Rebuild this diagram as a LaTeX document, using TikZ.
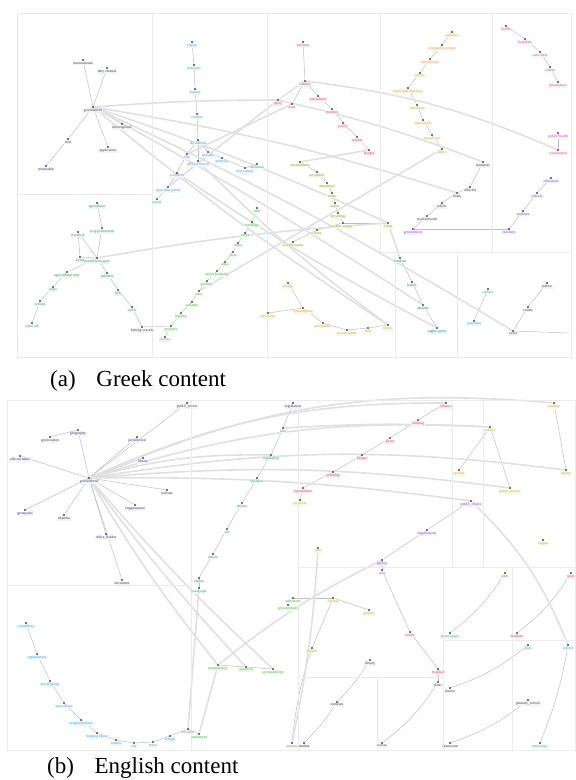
\documentclass[tikz,border=0pt]{standalone}
\usepackage{fontspec}
\setmainfont{Liberation Serif}
\usepackage{xcolor}
\usepackage{tikz}
\usetikzlibrary{calc}
\definecolor{navy}{HTML}{3A3A7C}
\definecolor{sky}{HTML}{3FA2E6}
\definecolor{rose}{HTML}{E0445E}
\definecolor{amber}{HTML}{F2A33A}
\definecolor{pinkc}{HTML}{D24FC0}
\definecolor{violet}{HTML}{8A4FD8}
\definecolor{lime}{HTML}{B8CC3A}
\definecolor{leaf}{HTML}{4CB84C}
\definecolor{tealc}{HTML}{3E9E6E}
\definecolor{sand}{HTML}{F0C850}
\definecolor{sea}{HTML}{2E8C8C}
\definecolor{gridc}{HTML}{EBEBEB}
\pgfdeclarelayer{bg}
\pgfsetlayers{bg,main}
\tikzset{
  pt/.style={circle, fill=black!72, inner sep=0pt, minimum size=2.4pt},
  lab/.style={font=\fontsize{3.8}{4}\selectfont, inner sep=0.6pt},
  navyn/.style={pt, label={[lab,text=navy,fill=navy!6]below:#1}},
  skyn/.style={pt, label={[lab,text=sky,fill=sky!9]below:#1}},
  rosen/.style={pt, label={[lab,text=rose,fill=rose!9]below:#1}},
  ambern/.style={pt, label={[lab,text=amber,fill=amber!11]below:#1}},
  pinkn/.style={pt, label={[lab,text=pinkc,fill=pinkc!9]below:#1}},
  violetn/.style={pt, label={[lab,text=violet,fill=violet!9]below:#1}},
  limen/.style={pt, label={[lab,text=lime!80!black,fill=lime!14]below:#1}},
  leafn/.style={pt, label={[lab,text=leaf,fill=leaf!9]below:#1}},
  tealn/.style={pt, label={[lab,text=tealc,fill=tealc!9]below:#1}},
  sandn/.style={pt, label={[lab,text=sand!85!black,fill=sand!16]below:#1}},
  sean/.style={pt, label={[lab,text=sea,fill=sea!9]below:#1}},
  grayn/.style={pt, label={[lab,text=black!55]below:#1}},
  edge/.style={draw=black!25, line width=0.5pt},
  longedge/.style={draw=black!12, line width=1.6pt},
  cell/.style={draw=gridc, line width=0.8pt},
  captext/.style={font=\fontsize{23}{26}\selectfont, anchor=base west, inner sep=0pt},
}

\begin{document}
\begin{tikzpicture}[x=1pt,y=-1pt]
\useasboundingbox (0,0) rectangle (576,780);

% cells of panel (a)
\draw[cell] (17,13) rectangle (571,357);
\draw[cell] (152,13) -- (152,357);
\draw[cell] (267,13) -- (267,357);
\draw[cell] (17,194) -- (152,194);
\draw[cell] (380,13) -- (380,252);
\draw[cell] (492,13) -- (492,252);
\draw[cell] (380,252) -- (571,252);
\draw[cell] (395,252) -- (395,357);
\draw[cell] (457,252) -- (457,357);

% panel (a) navy
\node[navyn=international] (a_int) at (83,60) {};
\node[navyn=they created] (a_thc) at (107,68) {};
\node[navyn=government] (a_gov) at (93,107) {};
\node[navyn=interregional] (a_itr) at (122,124) {};
\node[navyn=tool] (a_tool) at (68,139) {};
\node[navyn=application] (a_app) at (108,147) {};
\node[navyn=renewable] (a_ren) at (46,166) {};

% panel (a) sky
\node[skyn=region] (a_s1) at (192,42) {};
\node[skyn=data unit] (a_s2) at (194,65) {};
\node[skyn=format] (a_s3) at (195,89) {};
\node[skyn=content] (a_s4) at (197,114) {};
\node[skyn=documents] (a_s5) at (198,140) {};
\node[skyn=formats] (a_s6) at (208,152) {};
\node[skyn=official record] (a_s7) at (198,161) {};
\node[skyn=archives] (a_s8) at (222,158) {};
\node[skyn=text corpus] (a_s9) at (245,168) {};
\node[skyn=metadata] (a_s10) at (257,164) {};
\node[skyn=file] (a_s11) at (187,154) {};
\node[skyn=resources] (a_s12) at (177,173) {};
\node[skyn=open data portal] (a_s13) at (168,187) {};
\node[skyn=portal] (a_s14) at (157,199) {};

% panel (a) rose
\node[rosen=election] (a_r1) at (303,42) {};
\node[rosen=citizens] (a_r2) at (305,81) {};
\node[rosen=parliament] (a_r3) at (318,96) {};
\node[rosen=vote] (a_r4) at (292,104) {};
\node[rosen=party] (a_r5) at (278,100) {};
\node[rosen=minister] (a_r6) at (332,109) {};
\node[rosen=policy] (a_r7) at (343,123) {};
\node[rosen=reform] (a_r8) at (357,137) {};
\node[rosen=budget] (a_r9) at (369,150) {};

% panel (a) amber
\node[ambern=statistics] (a_o1) at (452,32) {};
\node[ambern=population census] (a_o2) at (442,45) {};
\node[ambern=households] (a_o3) at (430,59) {};
\node[ambern=survey] (a_o4) at (420,73) {};
\node[ambern=municipal unit data] (a_o5) at (408,88) {};
\node[ambern=indicators] (a_o6) at (417,105) {};
\node[ambern=time series] (a_o7) at (423,120) {};
\node[ambern=annual rate] (a_o8) at (432,135) {};
\node[ambern=index] (a_o9) at (442,149) {};

% panel (a) pink
\node[pinkn=health] (a_p1) at (506,26) {};
\node[pinkn=hospitals] (a_p2) at (525,39) {};
\node[pinkn=care units] (a_p3) at (540,52) {};
\node[pinkn=clinics] (a_p4) at (550,67) {};
\node[pinkn=pharmacies] (a_p5) at (558,82) {};
\node[pinkn=public health] (a_p6) at (558,133) {};
\node[pinkn=vaccination] (a_p7) at (558,150) {};

% panel (a) violet
\node[navyn=transport] (a_v1) at (483,162) {};
\node[navyn=vehicles] (a_v2) at (470,187) {};
\node[navyn=roads] (a_v3) at (457,193) {};
\node[navyn=traffic] (a_v4) at (442,203) {};
\node[navyn=road network] (a_v5) at (427,216) {};
\node[violetn=government] (a_v6) at (413,229) {};
\node[violetn=education] (a_v7) at (551,178) {};
\node[violetn=schools] (a_v8) at (537,193) {};
\node[violetn=students] (a_v9) at (523,211) {};
\node[violetn=teachers] (a_v10) at (509,229) {};

% panel (a) lime
\node[limen=environment] (a_l1) at (300,162) {};
\node[limen=air quality] (a_l2) at (317,172) {};
\node[limen=emissions] (a_l3) at (327,183) {};
\node[limen=noise] (a_l4) at (332,193) {};
\node[limen=waste] (a_l5) at (335,203) {};
\node[limen=recycling] (a_l6) at (338,213) {};
\node[limen=water supply] (a_l7) at (343,223) {};
\node[limen=rivers] (a_l8) at (317,230) {};
\node[limen=coastal zones] (a_l9) at (293,242) {};
\node[limen=forest] (a_l10) at (388,223) {};

% panel (a) leaf
\node[leafn=land] (a_g1) at (257,208) {};
\node[leafn=buildings] (a_g2) at (252,222) {};
\node[leafn=zones] (a_g3) at (245,233) {};
\node[leafn=maps] (a_g4) at (238,243) {};
\node[leafn=plots] (a_g5) at (233,252) {};
\node[leafn=areas] (a_g6) at (225,262) {};
\node[leafn=urban planning] (a_g7) at (217,271) {};
\node[leafn=permits] (a_g8) at (207,281) {};
\node[leafn=sites] (a_g9) at (199,291) {};
\node[leafn=cadastre] (a_g10) at (192,302) {};
\node[leafn=registry] (a_g11) at (181,313) {};
\node[leafn=property] (a_g12) at (171,326) {};
\node[leafn=owners] (a_g13) at (165,337) {};

% panel (a) teal
\node[tealn=agriculture] (a_t1) at (97,203) {};
\node[tealn=crop production] (a_t2) at (102,228) {};
\node[tealn=livestock] (a_t3) at (78,232) {};
\node[tealn=farms] (a_t4) at (80,257) {};
\node[tealn=production types] (a_t5) at (97,258) {};
\node[tealn=agricultural land] (a_t6) at (67,272) {};
\node[tealn=crops] (a_t7) at (53,287) {};
\node[tealn=cereals] (a_t8) at (40,301) {};
\node[tealn=olive oil] (a_t9) at (32,323) {};
\node[tealn=fisheries] (a_t10) at (107,273) {};
\node[tealn=fish] (a_t11) at (118,290) {};
\node[tealn=catch] (a_t12) at (132,307) {};
\node[navyn=fishing vessels] (a_t13) at (142,327) {};

% panel (a) sand
\node[sandn=energy] (a_e1) at (288,283) {};
\node[sandn=electricity] (a_e2) at (268,313) {};
\node[sandn=consumption] (a_e3) at (303,308) {};
\node[sandn=renewables] (a_e4) at (323,323) {};
\node[sandn=power plants] (a_e5) at (347,330) {};
\node[sandn=fuel] (a_e6) at (368,328) {};
\node[sandn=prices] (a_e7) at (388,325) {};

% panel (a) sea, sky, navy
\node[sean=tourism] (a_k1) at (400,258) {};
\node[sean=hotels] (a_k2) at (412,282) {};
\node[sean=arrivals] (a_k3) at (423,305) {};
\node[sean=nights spent] (a_k4) at (437,328) {};
\node[skyn=culture] (a_c1) at (488,289) {};
\node[skyn=museums] (a_c2) at (474,321) {};
\node[navyn=justice] (a_d1) at (547,283) {};
\node[navyn=courts] (a_d2) at (528,307) {};
\node[navyn=cases] (a_d3) at (513,331) {};
\coordinate (a_end) at (569,333);

\begin{pgfonlayer}{bg}
\foreach \u/\v in {a_int/a_gov, a_thc/a_gov, a_gov/a_itr, a_gov/a_tool, a_tool/a_ren, a_gov/a_app,
  a_s1/a_s2, a_s2/a_s3, a_s3/a_s4, a_s4/a_s5, a_s5/a_s6, a_s5/a_s7, a_s6/a_s8, a_s8/a_s9, a_s9/a_s10,
  a_s5/a_s11, a_s11/a_s12, a_s12/a_s13, a_s13/a_s14,
  a_r1/a_r2, a_r2/a_r3, a_r3/a_r6, a_r6/a_r7, a_r7/a_r8, a_r8/a_r9, a_r2/a_r4, a_r2/a_r5,
  a_o1/a_o2, a_o2/a_o3, a_o3/a_o4, a_o4/a_o5, a_o5/a_o6, a_o6/a_o7, a_o7/a_o8, a_o8/a_o9,
  a_p1/a_p2, a_p2/a_p3, a_p3/a_p4, a_p4/a_p5, a_p6/a_p7,
  a_v1/a_v2, a_v2/a_v3, a_v3/a_v4, a_v4/a_v5, a_v5/a_v6, a_v7/a_v8, a_v8/a_v9, a_v9/a_v10, a_v6/a_v10,
  a_l1/a_l2, a_l2/a_l3, a_l3/a_l4, a_l4/a_l5, a_l5/a_l6, a_l6/a_l7, a_l7/a_l8, a_l8/a_l9, a_l7/a_l10,
  a_g1/a_g2, a_g2/a_g3, a_g3/a_g4, a_g4/a_g5, a_g5/a_g6, a_g6/a_g7, a_g7/a_g8, a_g8/a_g9, a_g9/a_g10,
  a_g10/a_g11, a_g11/a_g12, a_g12/a_g13,
  a_t1/a_t2, a_t2/a_t5, a_t3/a_t4, a_t3/a_t5, a_t4/a_t5, a_t5/a_t6, a_t6/a_t7, a_t7/a_t8, a_t8/a_t9,
  a_t5/a_t10, a_t10/a_t11, a_t11/a_t12, a_t12/a_t13, a_t13/a_g12,
  a_e1/a_e3, a_e2/a_e3, a_e3/a_e4, a_e4/a_e5, a_e5/a_e6, a_e6/a_e7,
  a_k1/a_k2, a_k2/a_k3, a_k3/a_k4, a_c1/a_c2, a_d1/a_d2, a_d2/a_d3, a_d3/a_end}
  \draw[edge] (\u) -- (\v);
% long links of panel (a)
\draw[longedge] (a_gov) to[bend left=2] (a_r5);
\draw[longedge] (a_gov) to[bend left=4] (a_v3);
\draw[longedge] (a_gov) to[bend left=3] (a_l10);
\draw[longedge] (a_gov) to[bend left=2] (a_k3);
\draw[longedge] (a_gov) to[bend left=3] (a_d3);
\draw[longedge] (a_gov) to[bend right=3] (a_e7);
\draw[longedge] (a_r2) to[bend left=8] (a_p7);
\draw[longedge] (a_r5) to[bend left=4] (a_v1);
\draw[longedge] (a_s11) -- (a_r4);
\draw[longedge] (a_s13) -- (a_r5);
\draw[longedge] (a_t5) to[bend left=3] (a_l10);
\draw[longedge] (a_g9) -- (a_o9);
\draw[longedge] (a_s7) to[bend right=4] (a_e7);
\draw[longedge] (a_s12) to[bend right=3] (a_k4);
\draw[longedge] (a_r9) -- (a_l1);
\draw[longedge] (a_l10) -- (a_k1);
\end{pgfonlayer}

\node[captext] (cap_a) at (50,386) {(a)\hspace{0.9em}Greek content};

% cells of panel (b)
\draw[cell] (7,400) rectangle (575,750);
\draw[cell] (191,400) -- (191,750);
\draw[cell] (7,585) -- (191,585);
\draw[cell] (298,400) -- (298,750);
\draw[cell] (452,400) -- (452,567);
\draw[cell] (483,400) -- (483,567);
\draw[cell] (298,567) -- (575,567);
\draw[cell] (377,677) -- (377,750);
\draw[cell] (298,677) -- (443,677);
\draw[cell] (443,567) -- (443,750);
\draw[cell] (443,640) -- (575,640);
\draw[cell] (512,567) -- (512,750);

% panel (b) navy
\node[navyn=government] (b_gov) at (89,478) {};
\node[navyn=public\_sector] (b_n1) at (187,403) {};
\node[navyn=geography] (b_n2) at (78,430) {};
\node[navyn=geolocation] (b_n3) at (50,437) {};
\node[navyn=jurisdiction] (b_n4) at (137,437) {};
\node[navyn=library] (b_n5) at (143,458) {};
\node[navyn=official name] (b_n6) at (20,456) {};
\node[navyn=website] (b_n7) at (167,490) {};
\node[navyn=Organization] (b_n8) at (135,505) {};
\node[navyn=geospatial] (b_n9) at (25,510) {};
\node[navyn=dbpedia] (b_n10) at (64,515) {};
\node[navyn=office\_holder] (b_n11) at (106,534) {};
\node[navyn=document] (b_n12) at (122,580) {};

% panel (b) teal
\node[navyn=legislation] (b_g0) at (293,403) {};
\node[tealn=law] (b_g1) at (283,428) {};
\node[tealn=regulation] (b_g2) at (271,455) {};
\node[tealn=decision] (b_g3) at (257,478) {};
\node[tealn=decree] (b_g4) at (242,503) {};
\node[tealn=act] (b_g5) at (227,529) {};
\node[tealn=article] (b_g6) at (213,554) {};
\node[tealn=clause] (b_g7) at (199,578) {};
\node[leafn=paragraph] (b_g8) at (199,588) {};
\node[leafn=procurement] (b_g9) at (288,605) {};
\node[leafn=transparency] (b_gb1) at (218,665) {};
\node[leafn=openness] (b_gb2) at (246,667) {};
\node[leafn=accountability] (b_gb3) at (273,669) {};

% panel (b) sky
\node[skyn=community] (b_s1) at (26,623) {};
\node[skyn=organization] (b_s2) at (37,654) {};
\node[skyn=social group] (b_s3) at (50,681) {};
\node[skyn=association] (b_s4) at (64,703) {};
\node[skyn=neighbourhood] (b_s5) at (81,720) {};
\node[skyn=housing estate] (b_s6) at (97,733) {};
\node[skyn=county] (b_s7) at (116,740) {};
\node[skyn=city] (b_s8) at (134,743) {};
\node[skyn=town] (b_s9) at (153,742) {};
\node[skyn=village] (b_s10) at (170,736) {};
\node[grayn=locality] (b_s11) at (188,729) {};
\node[leafn=settlement] (b_s12) at (199,734) {};

% panel (b) rose
\node[rosen=finance] (b_r1) at (446,403) {};
\node[rosen=funding] (b_r2) at (418,420) {};
\node[rosen=grant] (b_r3) at (390,438) {};
\node[rosen=budget] (b_r4) at (362,455) {};
\node[rosen=spending] (b_r5) at (333,472) {};
\node[rosen=expenditure] (b_r6) at (303,488) {};
\node[ambern=payment] (b_r7) at (300,500) {};

% panel (b) amber, violet
\node[sandn=service] (b_o1) at (490,427) {};
\node[sandn=facility] (b_o2) at (459,470) {};
\node[sandn=public service] (b_o3) at (510,488) {};
\node[sandn=amenity] (b_o4) at (554,403) {};
\node[sandn=utility] (b_o5) at (566,470) {};
\node[violetn=public\_object] (b_u1) at (471,501) {};
\node[violetn=organisation] (b_u2) at (427,530) {};
\node[violetn=agency] (b_u3) at (382,560) {};
\node[pinkn=unit] (b_u4) at (382,570) {};
\node[sandn=region] (b_y1) at (543,540) {};
\node[sandn=area] (b_y2) at (318,548) {};

% panel (b) lower right
\node[pinkn=health] (b_h1) at (410,632) {};
\node[rosen=hospital] (b_h2) at (438,669) {};
\node[navyn=clinic] (b_h3) at (438,682) {};
\node[navyn=doctor] (b_h4) at (450,688) {};
\node[leafn=park] (b_q1) at (505,573) {};
\node[leafn=green space] (b_q2) at (450,633) {};
\node[rosen=sport] (b_q3) at (571,573) {};
\node[rosen=stadium] (b_q4) at (517,633) {};
\node[skyn=pool] (b_q5) at (528,645) {};
\node[skyn=school] (b_q6) at (568,645) {};
\node[navyn=primary\_school] (b_q7) at (528,700) {};
\node[navyn=library] (b_m1) at (370,660) {};
\node[navyn=museum] (b_m2) at (337,702) {};
\node[sandn=theatre] (b_m3) at (312,648) {};
\node[sandn=cinema] (b_m4) at (333,598) {};
\node[sandn=gallery] (b_m5) at (369,610) {};
\node[leafn=education] (b_m6) at (293,598) {};
\node[leafn=teacher] (b_z1) at (292,743) {};
\node[navyn=student] (b_z2) at (304,743) {};
\node[navyn=course] (b_z3) at (382,743) {};
\node[navyn=classroom] (b_z4) at (450,743) {};
\node[skyn=university] (b_z5) at (540,743) {};

\begin{pgfonlayer}{bg}
\foreach \u/\v in {b_n1/b_gov, b_n2/b_gov, b_n3/b_n2, b_n4/b_gov, b_n5/b_gov, b_n6/b_gov, b_n7/b_gov,
  b_n8/b_gov, b_n9/b_gov, b_n10/b_gov, b_n11/b_gov, b_n12/b_gov,
  b_g0/b_g1, b_g1/b_g2, b_g2/b_g3, b_g3/b_g4, b_g4/b_g5, b_g5/b_g6, b_g6/b_g7, b_g7/b_g8,
  b_gb1/b_gb2, b_gb2/b_gb3,
  b_s1/b_s2, b_s2/b_s3, b_s3/b_s4, b_s4/b_s5, b_s5/b_s6, b_s6/b_s7, b_s7/b_s8, b_s8/b_s9, b_s9/b_s10,
  b_s10/b_s11, b_s11/b_s12,
  b_r1/b_r2, b_r2/b_r3, b_r3/b_r4, b_r4/b_r5, b_r5/b_r6, b_r6/b_r7,
  b_o1/b_o2, b_o1/b_o3, b_o4/b_o5, b_u1/b_u2, b_u2/b_u3, b_u3/b_u4,
  b_u4/b_h1, b_h1/b_h2, b_h2/b_h3, b_m4/b_m5, b_m4/b_m3, b_m6/b_m4}
  \draw[edge] (\u) -- (\v);
\draw[edge] (b_q1) to[bend left=10] (b_q2);
\draw[edge] (b_q3) to[bend left=10] (b_q4);
\draw[edge] (b_q5) to[bend left=10] (b_h4);
\draw[edge] (b_h3) to[bend left=10] (b_z3);
\draw[edge] (b_q7) to[bend left=10] (b_z4);
\draw[edge] (b_q6) to[bend left=6] (b_z5);
\draw[edge] (b_m1) to[bend left=6] (b_m2);
\draw[edge] (b_m2) to[bend left=6] (b_z2);
\draw[edge] (b_m3) to[bend right=6] (b_z1);
% long links of panel (b)
\draw[longedge] (b_gov) to[bend left=10] (b_o1);
\draw[longedge] (b_gov) to[bend left=14] (b_o4);
\draw[longedge] (b_gov) to[bend left=8] (b_o5);
\draw[longedge] (b_gov) to[bend left=6] (b_o3);
\draw[longedge] (b_gov) to[bend left=12] (b_r1);
\draw[longedge] (b_gov) to[bend left=4] (b_u1);
\draw[longedge] (b_gov) to[bend left=8] (b_g2);
\draw[longedge] (b_gov) to[bend right=4] (b_gb1);
\draw[longedge] (b_gov) to[bend right=3] (b_gb2);
\draw[longedge] (b_gov) to[bend right=3] (b_gb3);
\draw[longedge] (b_g1) to[bend left=3] (b_o1);
\draw[longedge] (b_s11) -- (b_g8);
\draw[longedge] (b_s12) -- (b_gb1);
\draw[longedge] (b_u3) to[bend right=6] (b_gb1);
\draw[longedge] (b_u1) to[bend left=12] (b_q6);
\draw[longedge] (b_y2) to[bend left=4] (b_z1);
\end{pgfonlayer}

\node[captext] (cap_b) at (47,773) {(b)\hspace{0.9em}English content};

\end{tikzpicture}
\end{document}
